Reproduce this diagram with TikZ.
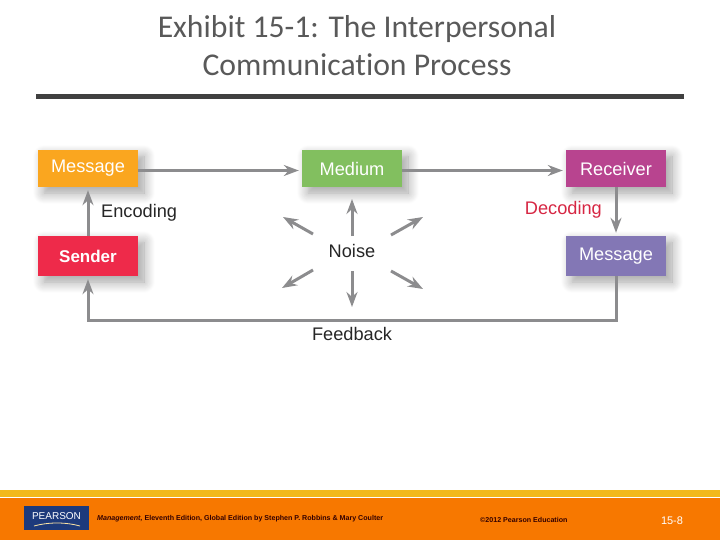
\documentclass[tikz,border=0pt]{standalone}
\usepackage{fontspec}
\setmainfont{Liberation Sans}
\newfontfamily\titlefont[Ligatures=NoCommon,Contextuals=NoAlternate]{Carlito}
\usetikzlibrary{shadows.blur,arrows.meta}

\definecolor{msgorange}{HTML}{FAA61F}
\definecolor{mediumgreen}{HTML}{82BF5F}
\definecolor{receiverpink}{HTML}{B8448F}
\definecolor{senderred}{HTML}{EE2A4A}
\definecolor{msgpurple}{HTML}{8377B5}
\definecolor{linegray}{HTML}{8C8C8E}
\definecolor{footorange}{HTML}{F77800}
\definecolor{footyellow}{HTML}{F2B91C}
\definecolor{pearsonblue}{HTML}{1D3A7C}

\tikzset{
  stepbox/.style={minimum width=100pt, inner sep=0pt, text=white,
    font=\fontsize{18.2}{20}\selectfont,
    blur shadow={shadow xshift=6pt, shadow yshift=-6pt, shadow blur radius=11pt, shadow opacity=38, shadow blur steps=12}},
  flow/.style={draw=linegray, line width=3pt, -{Stealth[length=15pt,width=11pt,inset=5pt]}},
  noisy/.style={draw=linegray, line width=3pt, -{Stealth[length=15pt,width=11pt,inset=5pt]}},
  lbl/.style={font=\fontsize{18.2}{20}\selectfont, text=black!85, inner sep=0pt},
  foot/.style={font=\fontsize{7.1}{8}\selectfont\bfseries, text=black!80!red}
}

\begin{document}
\begin{tikzpicture}[x=1pt, y=-1pt]
  \useasboundingbox (0,0) rectangle (720,540);

  % Title
  \node[font=\titlefont\fontsize{31.7}{38}\selectfont, text=black!65, align=center] (title) at (357,46)
    {Exhibit 15-1: The Interpersonal\\Communication Process};
  \fill[black!75] (36,94) rectangle (684,99);

  % Boxes
  \node[stepbox, fill=msgorange, minimum height=37pt] (msgtop) at (88,168.5) {Message};
  \node[stepbox, fill=mediumgreen, minimum height=37pt] (medium) at (352,168.5) {Medium};
  \node[stepbox, fill=receiverpink, minimum height=37pt] (receiver) at (616,168.5) {Receiver};
  \node[stepbox, fill=senderred, minimum height=40pt, font=\fontsize{17}{18}\selectfont\bfseries] (sender) at (88,256) {Sender};
  \node[stepbox, fill=msgpurple, minimum height=40pt] (msgbot) at (616,256) {Message};

  % Labels
  \node[lbl, anchor=west] (encoding) at (101,213) {Encoding};
  \node[lbl, anchor=east, text=senderred!90!black] (decoding) at (602,210) {Decoding};
  \node[lbl] (noise) at (352,251) {Noise};
  \node[lbl] (feedback) at (352,334) {Feedback};

  % Connectors
  \draw[flow, shorten >=3pt] ([yshift=-2pt]msgtop.east) -- ([yshift=-2pt]medium.west);
  \draw[flow, shorten >=3pt] ([yshift=-2pt]medium.east) -- ([yshift=-2pt]receiver.west);
  \draw[flow, shorten >=3pt] (sender) -- (msgtop);
  \draw[flow, shorten >=3pt] (receiver) -- (msgbot);
  \draw[flow, shorten >=3pt] (msgbot.south) -- ++(0,44) -| (sender.south);

  % Noise arrows
  \coordinate (nup) at (352,199);
  \coordinate (nupstart) at (352,236);
  \coordinate (nupl) at (283,217);
  \coordinate (nuplstart) at (313,234);
  \coordinate (nupr) at (423,217);
  \coordinate (nuprstart) at (391,235);
  \coordinate (ndn) at (352,307);
  \coordinate (ndnstart) at (352,271);
  \coordinate (ndnl) at (282,288);
  \coordinate (ndnlstart) at (313,270);
  \coordinate (ndnr) at (423,289);
  \coordinate (ndnrstart) at (391,271);
  \draw[noisy] (nupstart) -- (nup);
  \draw[noisy] (nuplstart) -- (nupl);
  \draw[noisy] (nuprstart) -- (nupr);
  \draw[noisy] (ndnstart) -- (ndn);
  \draw[noisy] (ndnlstart) -- (ndnl);
  \draw[noisy] (ndnrstart) -- (ndnr);

  % Footer
  \fill[footyellow] (0,490) rectangle (720,497);
  \fill[footorange] (0,498) rectangle (720,540);
  \fill[pearsonblue] (24,506) rectangle (89,530);
  \node[font=\fontsize{10}{10}\selectfont, text=white, inner sep=0pt] (logo) at (56.5,516) {PEARSON};
  \draw[footyellow!40!white, line width=0.8pt] (34,526) .. controls (48,522) and (66,522) .. (80,526);
  \node[foot, anchor=west, inner sep=0pt] (book) at (97,518.5)
    {\itshape Management, \normalfont\bfseries Eleventh Edition, Global Edition by Stephen P. Robbins \& Mary Coulter};
  \node[foot, anchor=west, inner sep=0pt] (copyright) at (480,519.5) {©2012 Pearson Education};
  \node[font=\fontsize{11}{12}\selectfont, text=white, inner sep=0pt] (pagenum) at (672,521) {15-8};
\end{tikzpicture}
\end{document}
